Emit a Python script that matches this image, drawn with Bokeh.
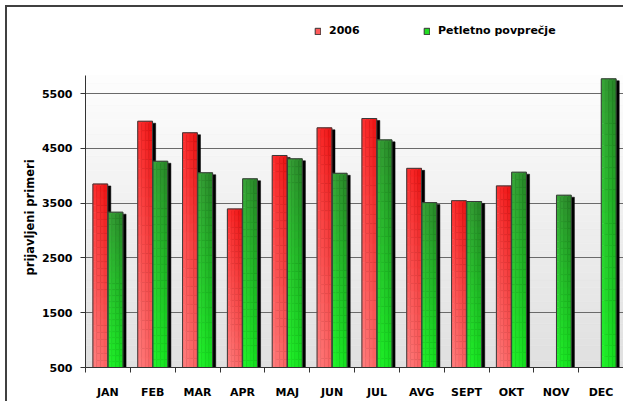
from bokeh.plotting import figure
from bokeh.models import (Range1d, FixedTicker, Legend, LegendItem, ColumnDataSource, Title)
from bokeh.embed import file_html
from bokeh.resources import INLINE
import math

# ---- data ----
months = ["JAN", "FEB", "MAR", "APR", "MAJ", "JUN", "JUL", "AVG", "SEPT", "OKT", "NOV", "DEC"]
values_2006 = [3850, 4995, 4785, 3395, 4370, 4875, 5045, 4135, 3545, 3815, float("nan"), float("nan")]
values_avg = [3335, 4265, 4055, 3945, 4310, 4045, 4655, 3510, 3530, 4065, 3645, 5770]
y_ticks = [500, 1500, 2500, 3500, 4500, 5500]
series_names = ["2006", "Petletno povprečje"]
y_title = "prijavljeni  primeri"

Y0, YTOP = 500, 5830          # visible value axis extent
FRAME_H, AXIS_H = 360, 292    # frame height and height of value axis (px)
Y1 = Y0 + FRAME_H * (YTOP - Y0) / AXIS_H
FONT = "DejaVu Sans"

p = figure(width=618, height=396, output_backend="svg", toolbar_location=None,
           x_range=Range1d(0, 12), y_range=Range1d(Y0, Y1),
           min_border_left=78, min_border_right=2, min_border_top=0, min_border_bottom=36)
p.styles = {"border-left": "2px solid #404040", "border-top": "2px solid #404040",
            "margin-left": "5px", "margin-top": "5px"}
p.outline_line_color = None
p.background_fill_color = "white"
p.border_fill_color = "white"

# background gradient of the value area (white at top -> light gray at bottom)
nb = 40
bg = dict(left=[], right=[], bottom=[], top=[], color=[])
for k in range(nb):
    b = Y0 + (YTOP - Y0) * k / nb
    t = Y0 + (YTOP - Y0) * (k + 1) / nb
    f = (k + 0.5) / nb
    c = int(224 + (254 - 224) * f)
    bg["left"].append(0); bg["right"].append(12)
    bg["bottom"].append(b); bg["top"].append(t)
    bg["color"].append("#%02x%02x%02x" % (c, c, c))
rbg = p.quad(source=ColumnDataSource(bg), left="left", right="right", bottom="bottom", top="top",
             fill_color="color", line_color="color", line_width=0.5)
rbg.level = "image"

def lerp(a, b, f):
    return tuple(a[i] + (b[i] - a[i]) * f for i in range(3))

def red_col(t, u):
    bot = lerp((255, 128, 128), (250, 98, 98), u)
    top = lerp((255, 48, 48), (232, 18, 18), u)
    return lerp(bot, top, t)

def green_col(t, u):
    bot = lerp((34, 246, 44), (20, 222, 30), u)
    top = lerp((58, 166, 58), (38, 128, 38), u)
    return lerp(bot, top, t)

def hexc(c):
    return "#%02x%02x%02x" % tuple(int(round(v)) for v in c)

DX = 0.07    # shadow offset (~3 px)
DY = 36      # shadow drop (2 px)
N, M = 26, 4

def draw_series(vals, x0, x1, colfn):
    sh = dict(left=[], right=[], top=[], bottom=[])
    sl = dict(left=[], right=[], top=[], bottom=[], color=[])
    ol = dict(left=[], right=[], top=[], bottom=[])
    for i, v in enumerate(vals):
        if v is None or (isinstance(v, float) and math.isnan(v)):
            continue
        L, R = i + x0, i + x1
        sh["left"].append(L + DX); sh["right"].append(R + DX)
        sh["top"].append(v - DY); sh["bottom"].append(Y0)
        ol["left"].append(L); ol["right"].append(R); ol["top"].append(v); ol["bottom"].append(Y0)
        for r in range(N):
            b = Y0 + (v - Y0) * r / N
            t = Y0 + (v - Y0) * (r + 1) / N
            for j in range(M):
                sl["left"].append(L + (R - L) * j / M)
                sl["right"].append(L + (R - L) * (j + 1) / M)
                sl["bottom"].append(b); sl["top"].append(t)
                sl["color"].append(hexc(colfn((r + 0.5) / N, (j + 0.5) / M)))
    return sh, sl, ol

red = draw_series(values_2006, 0.165, 0.495, red_col)
grn = draw_series(values_avg, 0.505, 0.835, green_col)

for sh, sl, ol in (red, grn):
    p.quad(source=ColumnDataSource(sh), left="left", right="right", top="top", bottom="bottom",
           fill_color="black", line_color="black", line_width=0.5)
    p.quad(source=ColumnDataSource(sl), left="left", right="right", top="top", bottom="bottom",
           fill_color="color", line_color="color", line_width=0.5)
    p.quad(source=ColumnDataSource(ol), left="left", right="right", top="top", bottom="bottom",
           fill_color=None, line_color="#3a3a3a", line_width=1)

# legend swatch renderers (no visible marks: NaN coordinates)
nan = float("nan")
lr = p.quad(left=[nan], right=[nan], top=[nan], bottom=[nan], fill_color="#ff5a5a", line_color="#333333")
lg = p.quad(left=[nan], right=[nan], top=[nan], bottom=[nan], fill_color="#22dd22", line_color="#333333")
legend = Legend(items=[LegendItem(label=series_names[0], renderers=[lr]),
                       LegendItem(label=series_names[1], renderers=[lg])],
                orientation="horizontal", location=(229, 330),
                glyph_width=7, glyph_height=8, label_standoff=8, label_width=94, label_height=12,
                spacing=0, padding=0, margin=0, border_line_color=None,
                background_fill_alpha=0,
                label_text_font=FONT, label_text_font_style="bold", label_text_font_size="11px",
                label_text_color="black")
p.add_layout(legend, "center")

# axes
p.xaxis.ticker = FixedTicker(ticks=[i + 0.5 for i in range(12)], minor_ticks=list(range(13)))
p.xaxis.major_label_overrides = {i + 0.5: m for i, m in enumerate(months)}
p.xaxis.major_tick_line_color = None
p.xaxis.major_tick_out = 0
p.xaxis.minor_tick_out = 5
p.xaxis.minor_tick_in = 0
p.xaxis.minor_tick_line_color = "#333333"
p.xaxis.major_label_standoff = 13

p.yaxis.ticker = FixedTicker(ticks=y_ticks, minor_ticks=[])
p.yaxis.bounds = (Y0, YTOP)
p.yaxis.major_tick_out = 5
p.yaxis.major_tick_in = 0
p.yaxis.major_tick_line_color = "#333333"
p.yaxis.major_label_standoff = 8

for ax in (p.xaxis[0], p.yaxis[0]):
    ax.axis_line_color = "#333333"
    ax.major_label_text_font = FONT
    ax.major_label_text_font_style = "bold"
    ax.major_label_text_font_size = "11px"
    ax.major_label_text_color = "black"

# vertical axis title placed as a side title
yt = Title(text=y_title, align="left", offset=92, text_font=FONT, text_font_style="bold",
           text_font_size="11.5px", text_color="black", standoff=4)
p.add_layout(yt, "left")

p.xgrid.grid_line_color = None
p.ygrid.ticker = FixedTicker(ticks=y_ticks)
p.ygrid.bounds = (Y0, YTOP)
p.ygrid.grid_line_color = "#6a6a6a"
p.ygrid.grid_line_width = 1

open("out.html", "w").write(file_html(p, INLINE))
